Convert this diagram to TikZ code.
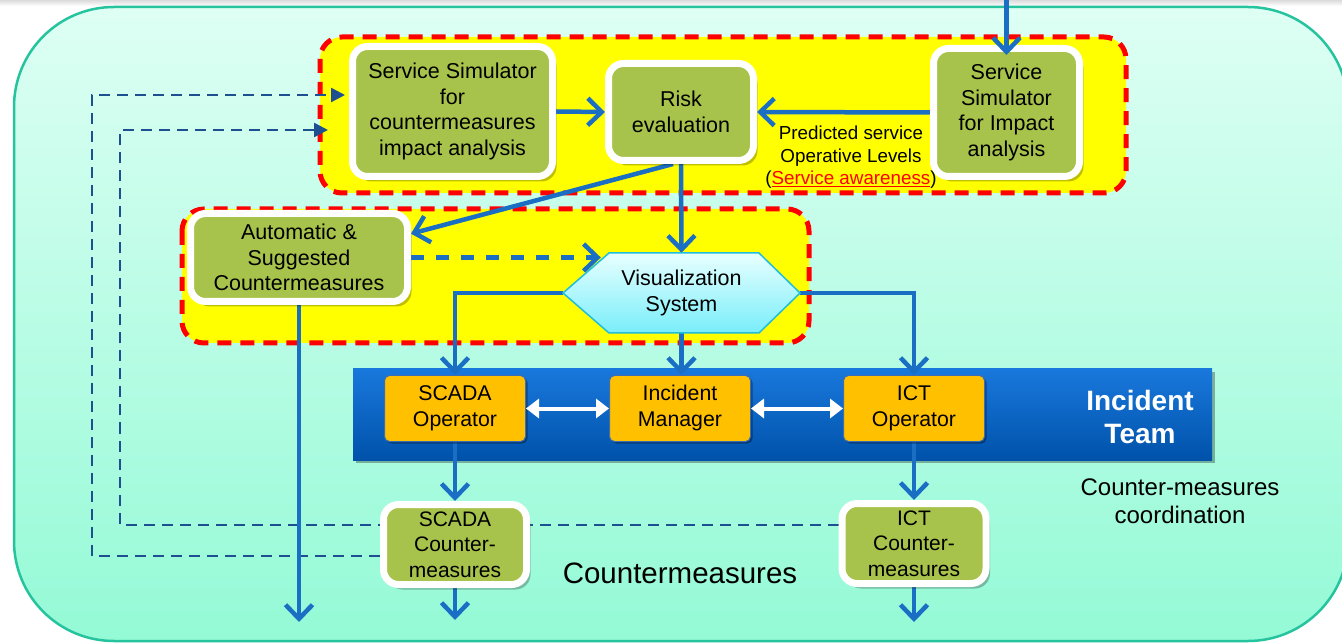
\documentclass[tikz,border=0pt]{standalone}
\usepackage{fontspec}
\setmainfont{Liberation Sans}
\usetikzlibrary{arrows.meta,shadows,calc}

\pgfdeclarelayer{back}
\pgfdeclarelayer{mid}
\pgfsetlayers{back,mid,main}

\definecolor{mintTop}{RGB}{222,255,244}
\definecolor{mintBot}{RGB}{148,250,214}
\definecolor{mintEdge}{RGB}{38,196,158}
\definecolor{boxGreen}{RGB}{168,195,75}
\definecolor{flowBlue}{RGB}{26,110,196}
\definecolor{linkBlue}{RGB}{30,80,145}
\definecolor{zoneRed}{RGB}{255,0,0}
\definecolor{zoneYellow}{RGB}{255,255,0}
\definecolor{teamTop}{RGB}{25,120,220}
\definecolor{teamBot}{RGB}{0,82,170}
\definecolor{opOrange}{RGB}{255,192,0}
\definecolor{opEdge}{RGB}{60,110,180}
\definecolor{visTop}{RGB}{232,255,255}
\definecolor{visBot}{RGB}{120,238,250}
\definecolor{visEdge}{RGB}{30,190,220}

% two centred lines, nudged slightly below the box centre
\newcommand{\oplines}[2]{\raisebox{-3pt}{\begin{tabular}{@{}c@{}}#1\\#2\end{tabular}}}

\tikzset{
  panel/.style={draw=white, line width=7pt, fill=boxGreen, rounded corners=15pt,
    drop shadow={shadow xshift=4pt, shadow yshift=-5pt, opacity=.25, fill=black}},
  smalltext/.style={font=\fontsize{21}{25.5}\selectfont},
  opbox/.style={draw=opEdge, line width=1pt, fill=opOrange, rounded corners=5pt,
    minimum width=141pt, minimum height=66pt,
    drop shadow={shadow xshift=2pt, shadow yshift=-2pt, opacity=.35, fill=black}},
  optext/.style={font=\fontsize{21.3}{26}\selectfont},
  zone/.style={fill=zoneYellow, draw=zoneRed, line width=5pt,
    dash pattern=on 14pt off 9pt, rounded corners=22pt},
  flow/.style={draw=flowBlue, line width=4.5pt, -{Straight Barb[length=14pt,width=27pt]}},
  flowdash/.style={flow, dash pattern=on 13pt off 12pt},
  linkdash/.style={draw=linkBlue, line width=2.5pt, dash pattern=on 11pt off 7pt,
    -{Triangle[length=14pt,width=14pt]}},
  swap/.style={draw=white, line width=4pt,
    {Triangle[length=13pt,width=19pt]}-{Triangle[length=13pt,width=19pt]}},
}

\begin{document}
\begin{tikzpicture}[x=1pt,y=-1pt,
  every node/.style={font=\fontsize{21.5}{25.5}\selectfont, align=center, inner sep=0pt}]
\useasboundingbox (0,0) rectangle (1342,644);

% ---- backdrop, zones and team bar
\begin{pgfonlayer}{back}
  \fill[white] (0,0) rectangle (1342,644);
  \fill[top color=black!14, bottom color=white] (0,0) rectangle (1342,6);
  \draw[mintEdge, line width=2.5pt, top color=mintTop, bottom color=mintBot,
        rounded corners=100pt] (14,7) rectangle (1348,641);
  \draw[zone] (320,37) rectangle (1126,193);
  \draw[zone] (182,209) rectangle (809,343);
  \node[top color=teamTop, bottom color=teamBot, minimum width=859pt, minimum height=91pt,
        drop shadow={shadow xshift=3pt, shadow yshift=-3pt, opacity=.3, fill=black}]
        (bar) at (782.5,414.5) {};
\end{pgfonlayer}

% ---- visualization hexagon
\draw[draw=visEdge, line width=1.5pt, top color=visTop, bottom color=visBot]
  (563,293) -- (609,253) -- (759,253) -- (800,293) -- (759,333) -- (609,333) -- cycle;
\node[minimum width=237pt, minimum height=80pt] (vis) at (681.5,293) {Visualization\\System};

% ---- processing blocks
\node[panel, minimum width=200pt, minimum height=130pt] (sscm) at (452.5,111.5)
  {Service Simulator\\for\\countermeasures\\impact analysis};
\node[panel, minimum width=145pt, minimum height=97pt] (risk) at (681,112) {Risk\\evaluation};
\node[panel, minimum width=146pt, minimum height=128pt] (ssimp) at (1006.5,112.5)
  {Service\\Simulator\\for Impact\\analysis};
\node[panel, minimum width=217pt, minimum height=88pt] (auto) at (299,257.5)
  {Automatic \&\\Suggested\\Countermeasures};
\node[panel, smalltext, minimum width=143pt, minimum height=80pt] (scm) at (455,544.5)
  {SCADA\\Counter-\\measures};
\node[panel, smalltext, minimum width=144pt, minimum height=80pt] (ictcm) at (914,543.5)
  {ICT\\Counter-\\measures};

% ---- incident team
\node[opbox, optext] (scop) at (455,408.5) {\oplines{SCADA}{Operator}};
\node[opbox, optext] (imgr) at (680,408.5) {\oplines{Incident}{Manager}};
\node[opbox, optext] (ictop) at (914,408.5) {\oplines{ICT}{Operator}};

% ---- labels
\node[text=white, font=\bfseries\fontsize{28}{33}\selectfont] (team) at (1140,417) {Incident\\Team};
\node[font=\fontsize{18.8}{22.5}\selectfont] (pred) at (851,157.5)
  {Predicted service\\Operative Levels\\(\textcolor{zoneRed}{\underline{Service awareness}})};
\node[font=\fontsize{24}{28}\selectfont] (coord) at (1180,501) {Counter-measures\\coordination};
\node[font=\fontsize{29.5}{32}\selectfont] (cmlabel) at (680,573) {Countermeasures};

% ---- free ends and corners
\coordinate (feed) at (1006.5,0);
\coordinate (outerCorner) at (92,95);
\coordinate (innerCorner) at (120,130);
\coordinate (autoOut) at (299,622);
\coordinate (scmOut) at (455,620);
\coordinate (ictOut) at (914,622);
\path (vis.west |- auto.east) coordinate (dashBase);

% ---- connectors
\begin{pgfonlayer}{mid}
  \draw[linkdash, shorten >=4pt] ([yshift=-11.5pt]scm.west) -| (outerCorner)
       -- ([yshift=16.5pt]sscm.west);
  \draw[linkdash, shorten >=21pt] ([yshift=18.5pt]ictcm.west) -| (innerCorner)
       -- ([yshift=-18.5pt]sscm.west);
  \draw[flow] (sscm.east) -- (risk.west);
  \draw[flow] (ssimp.west) -- (risk.east);
  \draw[flow] ([xshift=-8pt]risk.south) -- (auto.12);
  \draw[flow] (risk.south) -- (vis.north);
  \draw[flowdash] (auto.east) -- ([xshift=38pt]dashBase);
  \draw[flow] (vis.west) -| (scop.north);
  \draw[flow] (vis.east) -| (ictop.north);
  \draw[flow] (vis.south) -- (vis.south |- imgr.north);
  \draw[flow] (scop.south) -- (scm.north);
  \draw[flow] (ictop.south) -- (ictcm.north);
  \draw[flow] (scm.south) -- (scmOut);
  \draw[flow] (ictcm.south) -- (ictOut);
  \draw[flow] (auto.south) -- (autoOut);
\end{pgfonlayer}

\draw[flow, shorten >=-10pt] (feed) -- (ssimp.north);
\draw[swap] (scop.east) -- (imgr.west);
\draw[swap] (imgr.east) -- (ictop.west);
\end{tikzpicture}
\end{document}
